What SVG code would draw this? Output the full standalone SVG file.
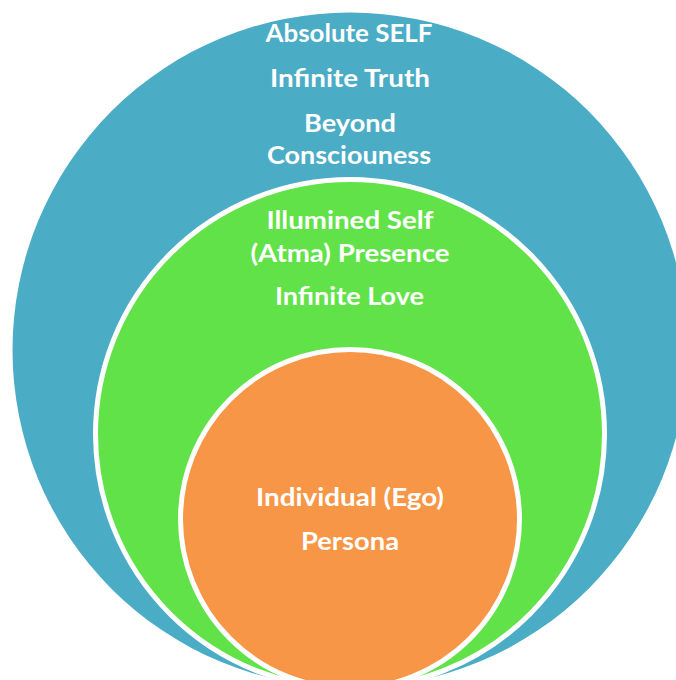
<svg xmlns="http://www.w3.org/2000/svg" width="676" height="680" viewBox="0 0 676 680">
  <style>
    .ring { stroke: #FFFFFF; stroke-width: 5; }
    .lbl { font-family: Lato, "Open Sans", "Liberation Sans", sans-serif; font-weight: bold; font-size: 24px; fill: #FFFFFF; text-anchor: middle; }
  </style>
  <rect width="676" height="680" fill="#FFFFFF"/>
  <g id="absolute-self">
    <circle cx="350" cy="350" r="337.5" fill="#4BACC6"/>
    <text class="lbl" x="349" y="41.7" textLength="167" lengthAdjust="spacingAndGlyphs">Absolute SELF</text>
    <text class="lbl" x="350" y="86.5" textLength="160" lengthAdjust="spacingAndGlyphs">Infinite Truth</text>
    <text class="lbl" x="350" y="131.7" textLength="92" lengthAdjust="spacingAndGlyphs">Beyond</text>
    <text class="lbl" x="349" y="164" textLength="164" lengthAdjust="spacingAndGlyphs">Consciouness</text>
  </g>
  <g id="illumined-self">
    <circle class="ring" cx="350" cy="434" r="254.5" fill="#62E249"/>
    <text class="lbl" x="350" y="229" textLength="167" lengthAdjust="spacingAndGlyphs">Illumined Self</text>
    <text class="lbl" x="350" y="261.7" textLength="199" lengthAdjust="spacingAndGlyphs">(Atma) Presence</text>
    <text class="lbl" x="349.5" y="305" textLength="149" lengthAdjust="spacingAndGlyphs">Infinite Love</text>
  </g>
  <g id="individual-ego">
    <circle class="ring" cx="350" cy="519" r="169.5" fill="#F79646"/>
    <text class="lbl" x="350" y="506" textLength="188" lengthAdjust="spacingAndGlyphs">Individual (Ego)</text>
    <text class="lbl" x="350" y="550" textLength="98" lengthAdjust="spacingAndGlyphs">Persona</text>
  </g>
  <g id="connectors"/>
</svg>
